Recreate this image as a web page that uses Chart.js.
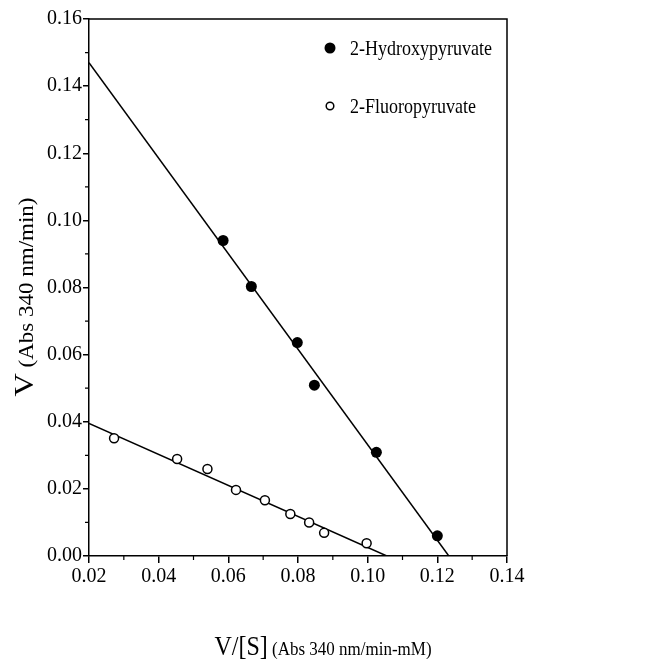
<!DOCTYPE html>
<html>
<head>
<meta charset="utf-8">
<script src="https://cdn.jsdelivr.net/npm/chart.js@4"></script>
<style>
  html, body { margin: 0; padding: 0; background: #fff; }
  canvas { display: block; }
</style>
</head>
<body>
<canvas id="plot" width="649" height="662"></canvas>
<script>
// data
var hydroxyX = [0.0585, 0.0666, 0.0798, 0.0847, 0.1025, 0.1200];
var hydroxyY = [0.0940, 0.0803, 0.0636, 0.0509, 0.0309, 0.0060];
var fluoroX = [0.0272, 0.0453, 0.0540, 0.0622, 0.0705, 0.0778, 0.0832, 0.0875, 0.0997];
var fluoroY = [0.0351, 0.0289, 0.0259, 0.0197, 0.0166, 0.0125, 0.0100, 0.0069, 0.0038];
// fitted lines (end points)
var hydroxyFitX = [0.02, 0.1233];
var hydroxyFitY = [0.147, 0.0];
var fluoroFitX = [0.02, 0.1055];
var fluoroFitY = [0.0395, 0.0];
// axes
var xMinorTicks = [0.03, 0.05, 0.07, 0.09, 0.11, 0.13];
var yMinorTicks = [0.01, 0.03, 0.05, 0.07, 0.09, 0.11, 0.13, 0.15];
var seriesNames = ["2-Hydroxypyruvate", "2-Fluoropyruvate"];

var SERIF = "'Liberation Serif', 'DejaVu Serif', serif";

function pts(xs, ys) {
  var out = [];
  for (var i = 0; i < xs.length; i++) out.push({x: xs[i], y: ys[i]});
  return out;
}

// the scanned figure is a bit stretched vertically, so text is drawn slightly tall
function tallText(ctx, str, x, y, k) {
  ctx.save();
  ctx.translate(x, y);
  ctx.scale(1, k);
  ctx.fillText(str, 0, 0);
  ctx.restore();
}

// frame, minor ticks, legend and the two-size axis titles
var extras = {
  id: "extras",
  afterDraw: function(chart) {
    var ctx = chart.ctx, a = chart.chartArea;
    var xs = chart.scales.x, ys = chart.scales.y;
    ctx.save();
    ctx.strokeStyle = "#000";
    ctx.lineWidth = 1.5;
    ctx.beginPath();
    ctx.moveTo(a.left, a.top);
    ctx.lineTo(a.right, a.top);
    ctx.lineTo(a.right, a.bottom);
    ctx.stroke();

    ctx.lineWidth = 1.2;
    ctx.beginPath();
    for (var i = 0; i < xMinorTicks.length; i++) {
      var px = xs.getPixelForValue(xMinorTicks[i]);
      ctx.moveTo(px, a.bottom);
      ctx.lineTo(px, a.bottom + 4);
    }
    for (var j = 0; j < yMinorTicks.length; j++) {
      var py = ys.getPixelForValue(yMinorTicks[j]);
      ctx.moveTo(a.left, py);
      ctx.lineTo(a.left - 4, py);
    }
    ctx.stroke();

    // legend
    ctx.fillStyle = "#000";
    ctx.beginPath();
    ctx.arc(330, 48, 5.5, 0, Math.PI * 2);
    ctx.fill();
    ctx.beginPath();
    ctx.lineWidth = 1.5;
    ctx.arc(330, 106, 3.8, 0, Math.PI * 2);
    ctx.stroke();
    ctx.font = "18px " + SERIF;
    ctx.textBaseline = "alphabetic";
    ctx.textAlign = "left";
    tallText(ctx, seriesNames[0], 350, 55, 1.15);
    tallText(ctx, seriesNames[1], 350, 113, 1.15);

    // x title
    var big = "24px " + SERIF, small = "17px " + SERIF;
    var t1 = "V/[S]", t2 = " (Abs 340 nm/min-mM)";
    ctx.font = big; var w1 = ctx.measureText(t1).width;
    ctx.font = small; var w2 = ctx.measureText(t2).width;
    var sx = 323 - (w1 + w2) / 2;
    ctx.font = big; tallText(ctx, t1, sx, 655, 1.15);
    ctx.font = small; tallText(ctx, t2, sx + w1, 655, 1.15);

    // y title (stretched along its length, like the scan)
    var ybig = "28px " + SERIF, ysmall = "20px " + SERIF;
    var u1 = "V", u2 = " (Abs 340 nm/min)";
    ctx.font = ybig; var v1 = ctx.measureText(u1).width;
    ctx.font = ysmall; var v2 = ctx.measureText(u2).width;
    ctx.translate(33, 297);
    ctx.rotate(-Math.PI / 2);
    ctx.scale(1.15, 1);
    var sy = -(v1 + v2) / 2;
    ctx.font = ybig; ctx.fillText(u1, sy, 0);
    ctx.font = ysmall; ctx.fillText(u2, sy + v1, 0);
    ctx.restore();
  }
};

new Chart(document.getElementById("plot"), {
  type: "scatter",
  data: {
    datasets: [
      {
        label: seriesNames[0],
        data: pts(hydroxyX, hydroxyY),
        pointRadius: 5.5, pointBackgroundColor: "#000", pointBorderColor: "#000", pointBorderWidth: 0
      },
      {
        label: seriesNames[1],
        data: pts(fluoroX, fluoroY),
        pointRadius: 4.5, pointBackgroundColor: "#fff", pointBorderColor: "#000", pointBorderWidth: 1.5
      },
      {
        label: "fit1",
        data: pts(hydroxyFitX, hydroxyFitY),
        showLine: true, pointRadius: 0, borderColor: "#000", borderWidth: 1.5
      },
      {
        label: "fit2",
        data: pts(fluoroFitX, fluoroFitY),
        showLine: true, pointRadius: 0, borderColor: "#000", borderWidth: 1.5
      }
    ]
  },
  options: {
    responsive: false,
    animation: false,
    layout: { padding: { top: 19, right: 142, left: 0, bottom: 0 } },
    plugins: { legend: { display: false }, tooltip: { enabled: false } },
    scales: {
      x: {
        type: "linear", min: 0.02, max: 0.14,
        afterFit: function(s) { s.height = 106; },
        grid: { drawOnChartArea: false, drawTicks: true, tickLength: 7, color: "#000", lineWidth: 1.5 },
        border: { display: true, color: "#000", width: 1.5 },
        ticks: {
          stepSize: 0.02, padding: 2, color: "#000",
          font: { family: SERIF, size: 20 },
          callback: function(v) { return v.toFixed(2); }
        }
      },
      y: {
        type: "linear", min: 0, max: 0.16,
        afterFit: function(s) { s.width = 89; },
        grid: { drawOnChartArea: false, drawTicks: true, tickLength: 6, color: "#000", lineWidth: 1.5 },
        border: { display: true, color: "#000", width: 1.5 },
        ticks: {
          stepSize: 0.02, padding: 1, color: "#000",
          font: { family: SERIF, size: 20 },
          callback: function(v) { return v.toFixed(2); }
        }
      }
    }
  },
  plugins: [extras]
});
</script>
</body>
</html>
